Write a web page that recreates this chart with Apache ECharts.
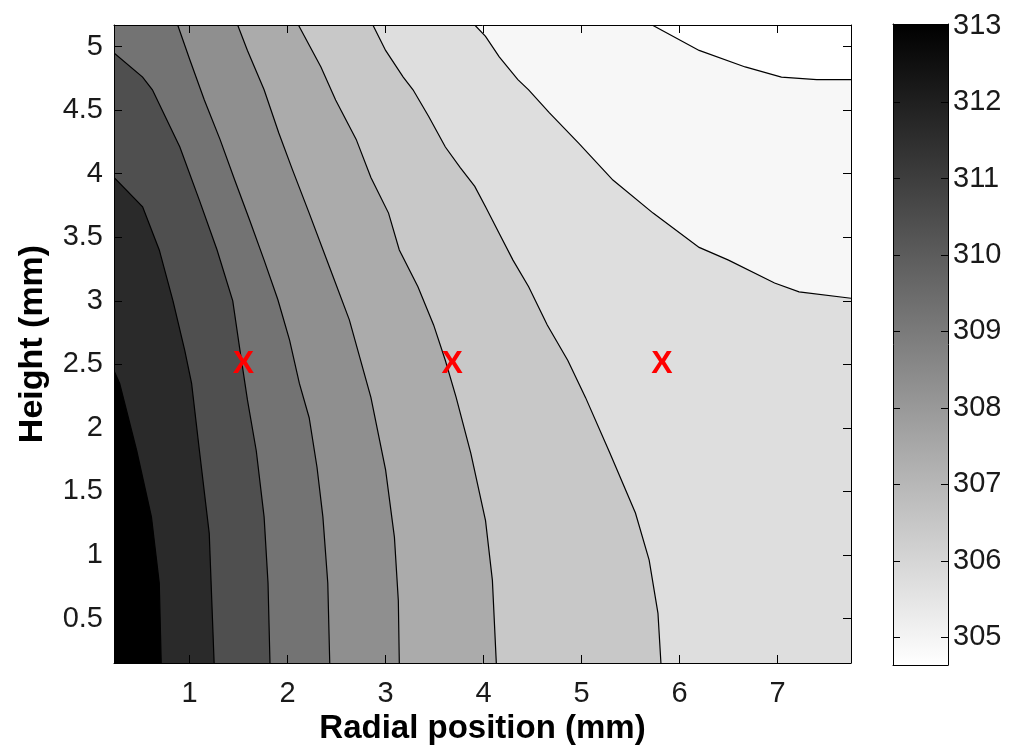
<!DOCTYPE html>
<html>
<head>
<meta charset="utf-8">
<script src="https://cdn.jsdelivr.net/npm/echarts@6/dist/echarts.min.js"></script>
<style>
  html, body { margin: 0; padding: 0; background: #fff; }
  #chart { width: 1011px; height: 752px; }
</style>
</head>
<body>
<div id="chart"></div>
<script>
// ---- axis ranges and ticks ----
const XMIN = 0.228, XMAX = 7.75;
const YMIN = 0.15, YMAX = 5.17;
const CB_MIN = 304.64, CB_MAX = 313.02;
const xTicks = [1, 2, 3, 4, 5, 6, 7];
const yTicks = [0.5, 1, 1.5, 2, 2.5, 3, 3.5, 4, 4.5, 5];
const cbTicks = [305, 306, 307, 308, 309, 310, 311, 312, 313];

// ---- contour lines (radial position mm, height mm) ----
const line305 = [[5.72,5.17],[6.20,4.97],[6.67,4.84],[7.04,4.76],[7.40,4.74],[7.75,4.74]];
const line306 = [[3.91,5.17],[4.02,5.08],[4.16,4.92],[4.35,4.74],[4.46,4.66],[4.67,4.48],[4.97,4.24],
  [5.32,3.95],[5.73,3.69],[6.20,3.42],[6.50,3.32],[6.97,3.14],[7.22,3.07],[7.75,3.02]];
const line307 = [[2.87,5.17],[3.00,4.97],[3.18,4.76],[3.28,4.66],[3.44,4.45],[3.61,4.21],[3.76,4.05],
  [3.91,3.90],[4.02,3.74],[4.16,3.53],[4.30,3.32],[4.46,3.11],[4.65,2.81],[4.86,2.53],[5.04,2.24],
  [5.29,1.80],[5.55,1.33],[5.69,0.96],[5.78,0.54],[5.81,0.15]];
const line308 = [[2.11,5.17],[2.34,4.84],[2.49,4.58],[2.70,4.27],[2.85,3.97],[3.03,3.69],[3.14,3.40],
  [3.33,3.11],[3.49,2.81],[3.61,2.53],[3.72,2.24],[3.87,1.80],[4.02,1.27],[4.09,0.80],[4.13,0.15]];
const line309 = [[1.49,5.17],[1.59,4.97],[1.76,4.66],[1.91,4.32],[2.05,4.03],[2.22,3.69],[2.43,3.26],
  [2.63,2.85],[2.85,2.24],[3.00,1.67],[3.09,1.14],[3.13,0.64],[3.14,0.15]];
const line310 = [[0.878,5.17],[1.00,4.90],[1.15,4.58],[1.31,4.27],[1.46,3.95],[1.61,3.64],[1.76,3.32],
  [1.90,3.01],[2.02,2.69],[2.12,2.35],[2.22,2.08],[2.30,1.69],[2.36,1.30],[2.41,0.78],[2.43,0.15]];
const line311 = [[0.228,4.95],[0.52,4.76],[0.62,4.66],[0.90,4.21],[1.10,3.79],[1.28,3.40],[1.44,3.00],
  [1.51,2.63],[1.59,2.22],[1.68,1.82],[1.76,1.30],[1.80,0.78],[1.82,0.15]];
const line312 = [[0.228,3.97],[0.52,3.74],[0.69,3.40],[0.83,3.00],[0.95,2.61],[1.02,2.35],[1.10,1.82],
  [1.20,1.17],[1.25,0.15]];
const line313 = [[0.228,2.45],[0.286,2.35],[0.46,1.82],[0.61,1.30],[0.69,0.78],[0.71,0.15]];

const contourLines = [line305, line306, line307, line308, line309, line310, line311, line312, line313];
// fill colour of the region on the hot (lower-left) side of each line
const fillColors = ['#f7f7f7','#dedede','#c8c8c8','#ababab','#8f8f8f','#737373','#4f4f4f','#2a2a2a','#000000'];

// ---- measurement points ----
const markerX = [1.55, 3.68, 5.82];
const markerY = [2.5, 2.5, 2.5];

const FONT = '"Liberation Sans", Arial, Helvetica, sans-serif';
const tickLabel = { fontFamily: FONT, fontSize: 29, color: '#1a1a1a' };
const axisLineStyle = { show: true, onZero: false, lineStyle: { color: '#000', width: 1 } };

const chart = echarts.init(document.getElementById('chart'));

const option = {
  backgroundColor: '#fff',
  animation: false,
  grid: [
    { left: 114, top: 25, width: 737, height: 638, containLabel: false },
    { left: 893, top: 24, width: 55, height: 641, containLabel: false }
  ],
  xAxis: [
    { gridIndex: 0, type: 'value', position: 'bottom', min: XMIN, max: XMAX, z: 10,
      axisLine: axisLineStyle,
      axisTick: { show: true, inside: true, length: 8, customValues: xTicks, lineStyle: { color: '#000' } },
      axisLabel: { show: true, customValues: xTicks, margin: 16, ...tickLabel },
      splitLine: { show: false },
      name: 'Radial position (mm)', nameLocation: 'middle', nameGap: 42,
      nameTextStyle: { fontFamily: FONT, fontSize: 33, fontWeight: 'bold', color: '#000' } },
    { gridIndex: 0, type: 'value', position: 'top', min: XMIN, max: XMAX, z: 10,
      axisLine: axisLineStyle,
      axisTick: { show: true, inside: true, length: 8, customValues: xTicks, lineStyle: { color: '#000' } },
      axisLabel: { show: false }, splitLine: { show: false } },
    { gridIndex: 1, type: 'value', position: 'bottom', min: 0, max: 1, z: 10,
      axisLine: axisLineStyle, axisTick: { show: false }, axisLabel: { show: false }, splitLine: { show: false } },
    { gridIndex: 1, type: 'value', position: 'top', min: 0, max: 1, z: 10,
      axisLine: axisLineStyle, axisTick: { show: false }, axisLabel: { show: false }, splitLine: { show: false } }
  ],
  yAxis: [
    { gridIndex: 0, type: 'value', position: 'left', min: YMIN, max: YMAX, z: 10,
      axisLine: axisLineStyle,
      axisTick: { show: true, inside: true, length: 8, customValues: yTicks, lineStyle: { color: '#000' } },
      axisLabel: { show: true, customValues: yTicks, margin: 11, ...tickLabel },
      splitLine: { show: false },
      name: 'Height (mm)', nameLocation: 'middle', nameGap: 64,
      nameTextStyle: { fontFamily: FONT, fontSize: 34, fontWeight: 'bold', color: '#000' } },
    { gridIndex: 0, type: 'value', position: 'right', min: YMIN, max: YMAX, z: 10,
      axisLine: axisLineStyle,
      axisTick: { show: true, inside: true, length: 8, customValues: yTicks, lineStyle: { color: '#000' } },
      axisLabel: { show: false }, splitLine: { show: false } },
    { gridIndex: 1, type: 'value', position: 'right', min: CB_MIN, max: CB_MAX, z: 10,
      axisLine: axisLineStyle,
      axisTick: { show: true, inside: true, length: 7, customValues: cbTicks, lineStyle: { color: '#000' } },
      axisLabel: { show: true, customValues: cbTicks, margin: 5, ...tickLabel },
      splitLine: { show: false } },
    { gridIndex: 1, type: 'value', position: 'left', min: CB_MIN, max: CB_MAX, z: 10,
      axisLine: axisLineStyle,
      axisTick: { show: true, inside: true, length: 7, customValues: cbTicks, lineStyle: { color: '#000' } },
      axisLabel: { show: false }, splitLine: { show: false } }
  ],
  series: [
    { // filled contour bands, painted from coolest to hottest
      type: 'custom', xAxisIndex: 0, yAxisIndex: 0, clip: true, silent: true,
      data: contourLines.map((_, i) => [i, i]),
      renderItem: function (params, api) {
        const i = api.value(0);
        const pts = contourLines[i].slice();
        const first = pts[0], last = pts[pts.length - 1];
        if (last[0] >= XMAX - 1e-6) pts.push([XMAX, YMIN]);
        pts.push([XMIN, YMIN]);
        if (first[1] >= YMAX - 1e-6) pts.push([XMIN, YMAX]);
        return { type: 'polygon', shape: { points: pts.map(p => api.coord(p)) },
                 style: { fill: fillColors[i], stroke: null } };
      }
    },
    { // contour lines
      type: 'custom', xAxisIndex: 0, yAxisIndex: 0, clip: true, silent: true,
      data: contourLines.map((_, i) => [i, i]),
      renderItem: function (params, api) {
        const i = api.value(0);
        return { type: 'polyline', shape: { points: contourLines[i].map(p => api.coord(p)) },
                 style: { fill: null, stroke: '#000', lineWidth: 1.2 } };
      }
    },
    { // measurement markers
      type: 'custom', xAxisIndex: 0, yAxisIndex: 0, silent: true, z: 5,
      data: markerX.map((x, i) => [x, markerY[i]]),
      renderItem: function (params, api) {
        const c = api.coord([api.value(0), api.value(1)]);
        return { type: 'text', x: c[0], y: c[1],
                 style: { text: 'X', fill: '#ff0000', font: 'bold 32px ' + FONT, align: 'center', verticalAlign: 'middle' } };
      }
    },
    { // colour bar
      type: 'custom', xAxisIndex: 2, yAxisIndex: 2, silent: true,
      data: [[0, CB_MIN, 1, CB_MAX]],
      renderItem: function (params, api) {
        const p0 = api.coord([api.value(0), api.value(3)]);
        const p1 = api.coord([api.value(2), api.value(1)]);
        return { type: 'rect', shape: { x: p0[0], y: p0[1], width: p1[0] - p0[0], height: p1[1] - p0[1] },
                 style: { fill: { type: 'linear', x: 0, y: 0, x2: 0, y2: 1,
                   colorStops: [{ offset: 0, color: '#000000' }, { offset: 1, color: '#ffffff' }] } } };
      }
    }
  ]
};
chart.setOption(option);
</script>
</body>
</html>
